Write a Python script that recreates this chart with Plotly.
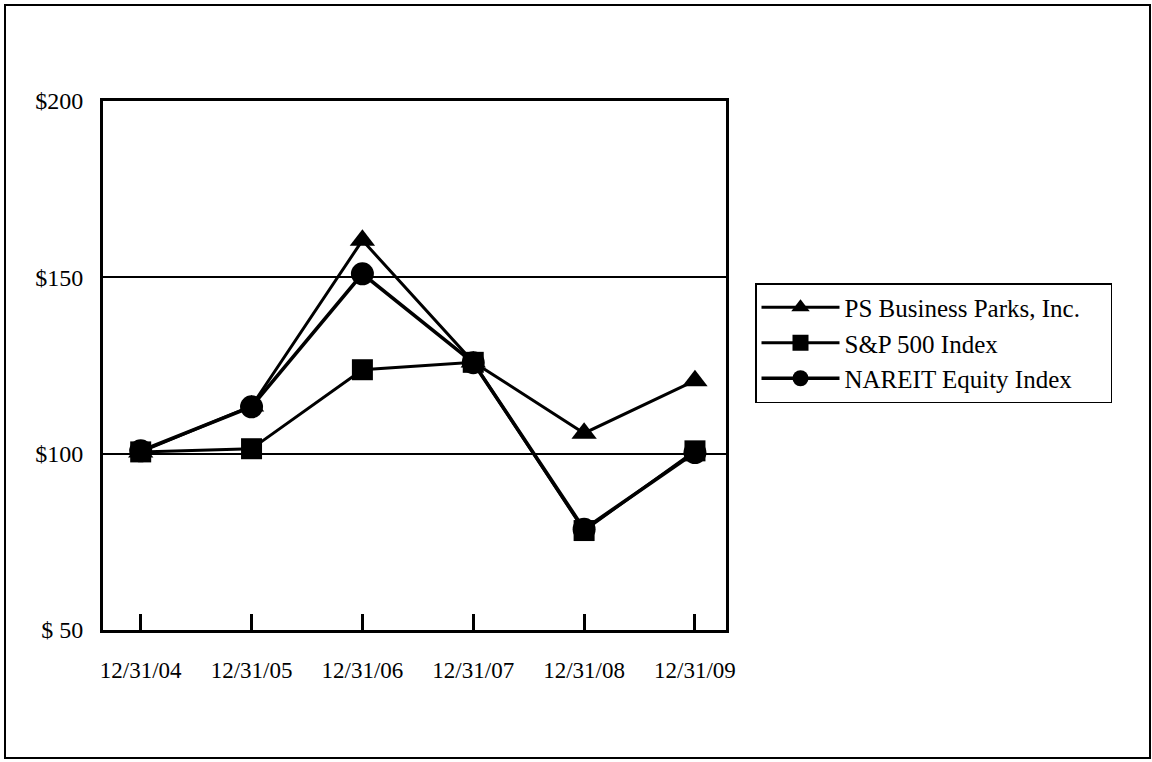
import plotly.graph_objects as go

dates = ["12/31/04", "12/31/05", "12/31/06", "12/31/07", "12/31/08", "12/31/09"]
ps_business_parks = [100.5, 113.5, 160.5, 126.0, 105.8, 120.7]
sp500 = [100.5, 101.4, 123.8, 125.9, 78.2, 100.8]
nareit = [100.8, 113.3, 151.0, 125.8, 78.6, 100.3]

y_tickvals = [50, 100, 150, 200]
y_ticktext = ["$ 50", "$100", "$150", "$200"]

FONT = "Liberation Serif, Times New Roman, serif"
PAD = "\u00a0" * 4  # widens the legend box to match the reference

fig = go.Figure()
fig.add_trace(go.Scatter(
    x=dates, y=ps_business_parks, name="PS Business Parks, Inc." + PAD,
    mode="lines+markers", legendgroup="a",
    line=dict(color="black", width=3),
    marker=dict(symbol="triangle-up", size=22, color="black"),
))
fig.add_trace(go.Scatter(
    x=dates, y=sp500, name="S&P 500 Index",
    mode="lines+markers", legendgroup="b",
    line=dict(color="black", width=3),
    marker=dict(symbol="square", size=21, color="black"),
))
fig.add_trace(go.Scatter(
    x=dates, y=nareit, name="NAREIT Equity Index",
    mode="lines+markers", legendgroup="c",
    line=dict(color="black", width=3.6),
    marker=dict(symbol="circle", size=23, color="black"),
))

L, R, T, B = 103, 726, 101, 630
W, H = 1152, 762
pw, ph = R - L, B - T

def px(x):
    return (x - L) / pw

def py(y):
    return (B - y) / ph

fig.update_layout(
    width=W, height=H,
    margin=dict(l=L, r=W - R, t=T, b=H - B, autoexpand=False),
    paper_bgcolor="white", plot_bgcolor="white",
    font=dict(family=FONT, size=24, color="black"),
    showlegend=True,
    legend=dict(
        x=px(755), y=py(283), xanchor="left", yanchor="top",
        bordercolor="black", borderwidth=1.5, bgcolor="white",
        font=dict(family=FONT, size=25, color="black"),
        itemwidth=78, tracegroupgap=0,
    ),
    xaxis=dict(
        type="category", range=[-0.34, 5.28],
        tickvals=dates, ticktext=dates,
        ticks="inside", ticklen=16, tickwidth=2.5, tickcolor="black",
        showgrid=False, zeroline=False,
        showline=True, linecolor="black", linewidth=3, mirror=True,
        tickfont=dict(family=FONT, size=23, color="black"),
        ticklabelstandoff=17,
    ),
    yaxis=dict(
        range=[50, 200], tickvals=y_tickvals, ticktext=y_ticktext,
        ticks="", showgrid=True, gridcolor="black", gridwidth=1.6,
        zeroline=False,
        showline=True, linecolor="black", linewidth=3, mirror=True,
        tickfont=dict(family=FONT, size=24, color="black"),
        ticklabelstandoff=12,
    ),
    shapes=[dict(
        type="rect", xref="paper", yref="paper",
        x0=px(5), x1=px(1150), y0=py(758), y1=py(5),
        line=dict(color="black", width=2), fillcolor="rgba(0,0,0,0)",
        layer="below",
    )],
)

fig.write_html(
    "out.html",
    config={"displayModeBar": False},
    post_script="document.body.style.margin='0';document.body.style.overflow='hidden';",
)
